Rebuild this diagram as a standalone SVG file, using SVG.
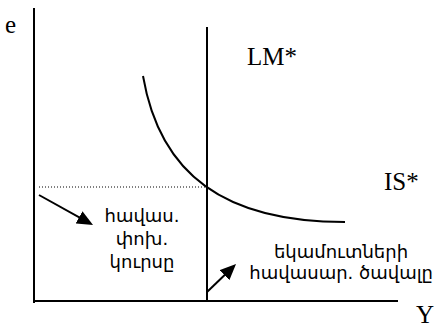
<svg xmlns="http://www.w3.org/2000/svg" width="434" height="328" viewBox="0 0 434 328">
<defs>
<style>
.ln{stroke:#000;stroke-width:2;fill:none}
.dot{stroke:#000;stroke-width:1;stroke-dasharray:1,2;fill:none}
.ser{font-family:"Liberation Serif","Times New Roman",serif;font-size:25px;fill:#000}
.arm{font-family:"DejaVu Sans",sans-serif;font-size:18px;fill:#000;text-anchor:middle}
</style>
<marker id="ah" viewBox="0 0 16 14" refX="10" refY="7" markerWidth="16" markerHeight="14" markerUnits="userSpaceOnUse" orient="auto">
<path d="M0,0 L16,7 L0,14 z" fill="#000"/>
</marker>
</defs>
<g id="axes">
<line class="ln" x1="34" y1="8" x2="34" y2="303"/>
<line class="ln" x1="33" y1="301" x2="398" y2="301"/>
</g>
<g id="lm">
<line class="ln" x1="207" y1="27" x2="207" y2="302"/>
</g>
<g id="is">
<path class="ln" d="M143,76 C160,175 225,222 345,222"/>
</g>
<g id="connectors">
<line class="dot" x1="39" y1="187" x2="207" y2="187"/>
<line class="ln" x1="39" y1="195" x2="87.8" y2="222.1" marker-end="url(#ah)"/>
<line class="ln" x1="207" y1="292" x2="231.7" y2="268.2" marker-end="url(#ah)"/>
</g>
<g id="labels">
<text class="ser" x="5" y="33">e</text>
<text class="ser" x="247" y="65">LM*</text>
<text class="ser" x="384" y="190">IS*</text>
<text class="ser" x="416" y="323">Y</text>
</g>
<g id="note1">
<text class="arm" x="142" y="222">հավաս.</text>
<text class="arm" x="142" y="245">փոխ.</text>
<text class="arm" x="142" y="268">կուրսը</text>
</g>
<g id="note2">
<text class="arm" x="341" y="258">եկամուտների</text>
<text class="arm" x="433" y="279" style="text-anchor:end">հավասար. ծավալը</text>
</g>
</svg>
